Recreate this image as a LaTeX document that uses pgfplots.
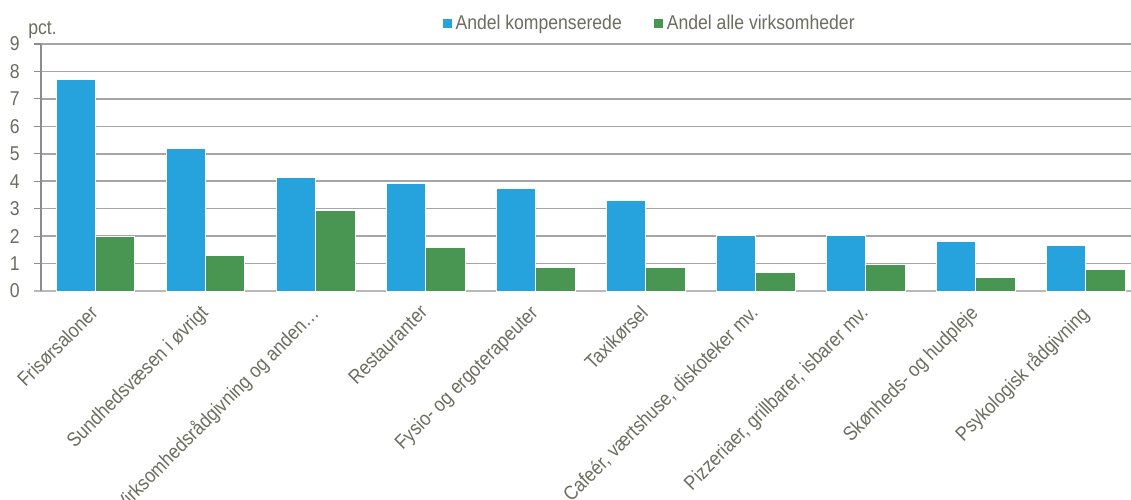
\documentclass[border=0pt]{standalone}
\usepackage{pgfplots}
\pgfplotsset{compat=1.18}
\usepackage{fontspec}
\setmainfont{Liberation Sans}[FakeStretch=0.88]
\definecolor{cblue}{RGB}{38,162,221}
\definecolor{cgreen}{RGB}{72,150,82}
\definecolor{txt}{RGB}{108,108,96}
\definecolor{gridc}{RGB}{165,165,165}
\begin{document}
\begin{tikzpicture}
\path[use as bounding box, clip] (-20.5pt,-104pt) rectangle (545pt,145.5pt);
\begin{axis}[
  scale only axis,
  width=545pt, height=123.5pt,
  xmin=-0.5, xmax=9.409,
  ymin=0, ymax=9,
  ytick={0,1,...,9},
  xtick={0,1,...,9},
  xticklabels={Frisørsaloner,Sundhedsvæsen i øvrigt,Virksomhedsrådgivning og anden…,Restauranter,Fysio- og ergoterapeuter,Taxikørsel,{Cafeér, værtshuse, diskoteker mv.},{Pizzeriaer, grillbarer, isbarer mv.},Skønheds- og hudpleje,Psykologisk rådgivning},
  axis x line*=bottom,
  axis y line*=left,
  x axis line style={color=gray!55, line width=0.7pt, shorten <=-3.5pt},
  y axis line style={color=gray!90, line width=0.6pt},
  ymajorgrids,
  grid style={color=gridc, line width=0.75pt},
  xtick style={draw=none},
  ytick style={color=gray!90, line width=0.6pt},
  tick align=outside,
  major tick length=3.5pt,
  /pgf/number format/assume math mode=true,
  tick label style={font=\fontsize{10}{12}\selectfont, text=txt},
  yticklabel style={anchor=east, inner sep=0pt, xshift=-7pt},
  xticklabel style={rotate=45, anchor=north east, inner sep=1pt, yshift=1.6pt, xshift=-3.5pt},
  ybar,
  bar width=0.355,
  clip=false,
  legend style={at={(axis description cs:0.368,1.081)}, anchor=west, draw=none, fill=none,
    inner sep=0pt, font=\fontsize{10}{12}\selectfont, text=txt,
    /tikz/every even column/.append style={column sep=14pt}},
  legend columns=2,
  legend image code/.code={\fill[#1, draw=none] (0pt,-2.25pt) rectangle (4.5pt,2.25pt);},
]
\addplot[fill=cblue, draw=white, line width=0.5pt, bar shift=-0.18] coordinates {
(0,7.72) (1,5.21) (2,4.15) (3,3.92) (4,3.73) (5,3.28) (6,2.04) (7,2.01) (8,1.82) (9,1.64)};
\addlegendentry{Andel kompenserede}
\addplot[fill=cgreen, draw=white, line width=0.5pt, bar shift=0.177] coordinates {
(0,1.97) (1,1.31) (2,2.92) (3,1.57) (4,0.84) (5,0.84) (6,0.66) (7,0.98) (8,0.51) (9,0.80)};
\addlegendentry{Andel alle virksomheder}
\node[anchor=base west, inner sep=0pt, text=txt, font=\fontsize{10}{12}\selectfont] at (rel axis cs:0,1) [xshift=-6.5pt, yshift=5pt] {pct.};
\end{axis}
\end{tikzpicture}
\end{document}
